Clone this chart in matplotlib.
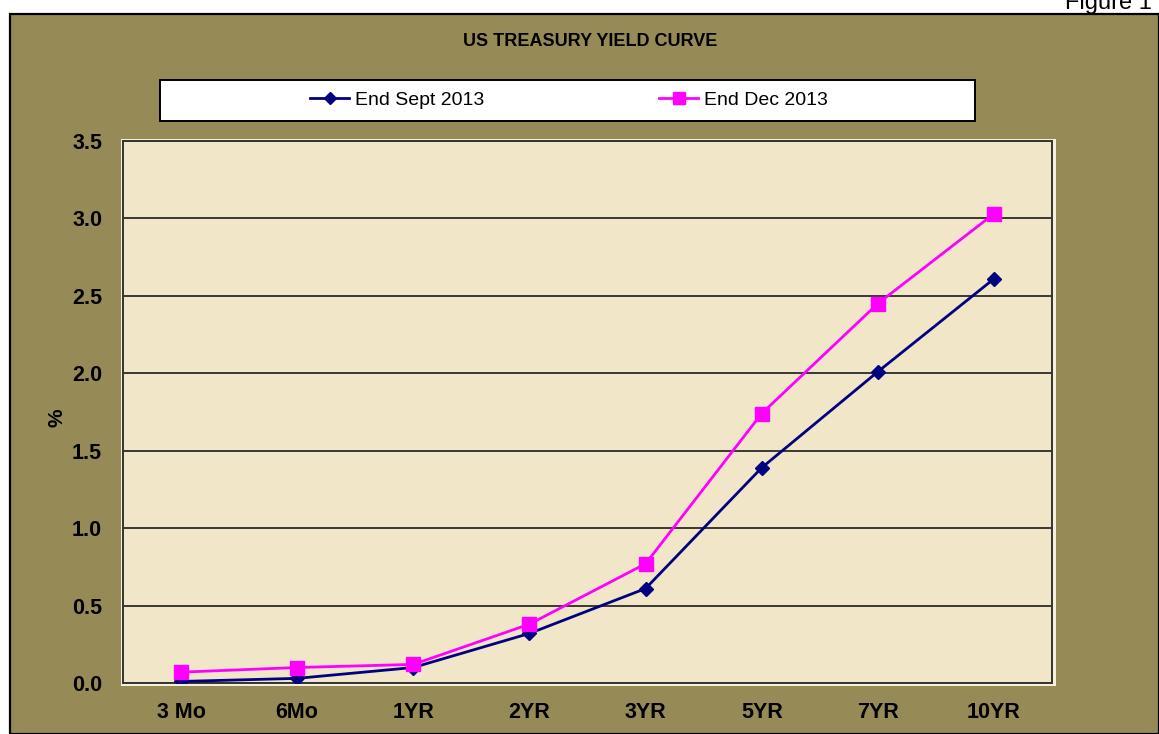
import matplotlib
matplotlib.use("Agg")
import matplotlib.pyplot as plt
from matplotlib.patches import Rectangle

categories = ["3 Mo", "6Mo", "1YR", "2YR", "3YR", "5YR", "7YR", "10YR"]
sept_2013 = [0.01, 0.03, 0.10, 0.32, 0.61, 1.39, 2.01, 2.61]
dec_2013 = [0.07, 0.10, 0.12, 0.38, 0.77, 1.74, 2.45, 3.03]
yticks = [0.0, 0.5, 1.0, 1.5, 2.0, 2.5, 3.0, 3.5]

OLIVE = "#968B56"
PLOT_BG = "#F2E6C8"
W, H = 1159, 734


def fx(px):
    return px / W


def fy(py):
    return 1 - py / H


def main():
    plt.rcParams["font.family"] = ["Liberation Sans", "DejaVu Sans"]
    fig = plt.figure(figsize=(W / 100, H / 100), dpi=100, facecolor="white")

    # olive chart area with black border on top/left
    fig.patches.append(Rectangle((fx(10), 0), 1 - fx(10), fy(14), transform=fig.transFigure,
                                 facecolor=OLIVE, edgecolor="black", linewidth=1.6, zorder=-3))
    # light halo around plot area
    fig.patches.append(Rectangle((fx(121), fy(686)), fx(1056 - 121), (686 - 139) / H,
                                 transform=fig.transFigure, facecolor="#F7EFDA",
                                 edgecolor="none", zorder=-1))

    ax = fig.add_axes([fx(123), fy(683), fx(1052 - 123), (683 - 141) / H])
    ax.set_facecolor(PLOT_BG)
    x = [i + 0.5 for i in range(len(categories))]

    ax.plot(x, sept_2013, color="#000080", lw=2.0, marker="D", ms=7.5,
            label="End Sept 2013", zorder=3)
    ax.plot(x, dec_2013, color="#FF00FF", lw=2.0, marker="s", ms=10,
            label="End Dec 2013", zorder=4)

    ax.set_xlim(0, len(categories))
    ax.set_ylim(0, 3.5)
    ax.set_xticks(x)
    ax.set_xticklabels(categories, fontsize=15.5, fontweight="bold")
    ax.set_yticks(yticks)
    ax.set_yticklabels([f"{v:.1f}" for v in yticks], fontsize=15.5, fontweight="bold")
    ax.tick_params(axis="both", length=0)
    ax.tick_params(axis="y", pad=15)
    ax.tick_params(axis="x", pad=14)
    ax.grid(axis="y", color="#2a2a2a", lw=1.3)
    ax.set_axisbelow(True)
    for s in ax.spines.values():
        s.set_color("#333333")
        s.set_linewidth(1.4)

    fig.text(fx(57), fy(418), "%", rotation=90, ha="center", va="center",
             fontsize=15, fontweight="bold")

    fig.text(fx(590), fy(42), "US TREASURY YIELD CURVE", ha="center", va="center",
             fontsize=13, fontweight="bold")

    fig.text(fx(1152), fy(9), "Figure 1", ha="right", va="baseline", fontsize=17)

    # legend box
    fig.patches.append(Rectangle((fx(160), fy(121)), fx(975 - 160), 41 / H,
                                 transform=fig.transFigure, facecolor="white",
                                 edgecolor="black", linewidth=1.4, zorder=1))
    fig.legend(loc="center", bbox_to_anchor=(fx(569), fy(100)), ncol=2,
               frameon=False, fontsize=14, handlelength=2.0, handletextpad=0.3,
               columnspacing=9.0, markerscale=0.85)

    fig.savefig("out.png", dpi=100, facecolor=fig.get_facecolor())


if __name__ == "__main__":
    main()
